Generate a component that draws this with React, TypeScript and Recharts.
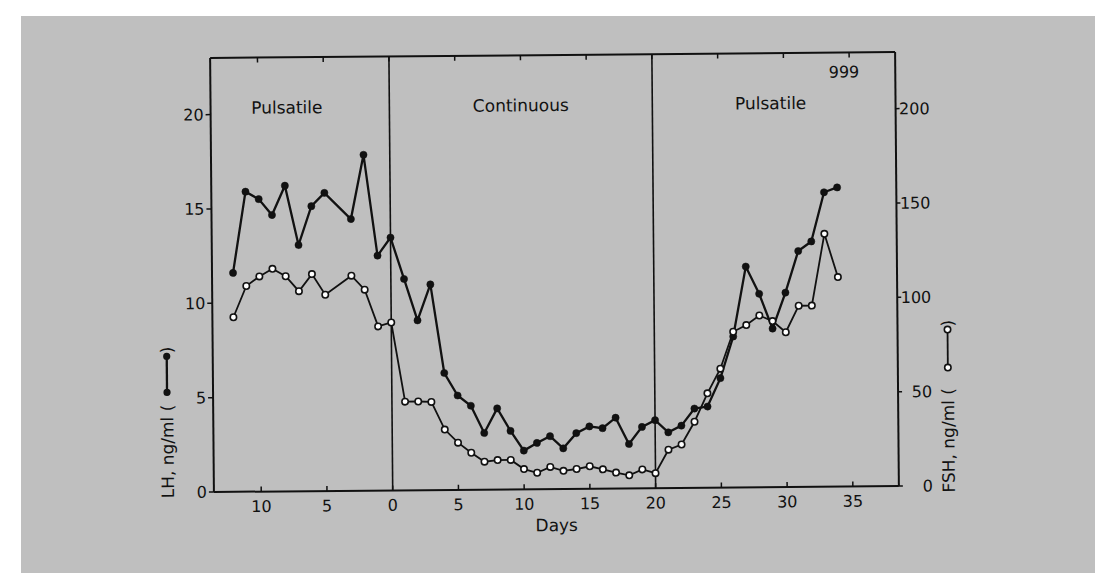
import { ComposedChart, Line, XAxis, YAxis, ReferenceLine, ReferenceDot } from 'recharts';

// days relative to start of continuous infusion (day -4 was not sampled)
const days = [
  -12, -11, -10, -9, -8, -7, -6, -5, -3, -2, -1, 0,
  1, 2, 3, 4, 5, 6, 7, 8, 9, 10, 11, 12, 13, 14, 15, 16, 17,
  18, 19, 20, 21, 22, 23, 24, 25, 26, 27, 28, 29, 30, 31, 32, 33, 34,
];
const lhValues = [
  11.6, 15.9, 15.5, 14.65, 16.2, 13.05, 15.1, 15.8, 14.4, 17.8, 12.45, 13.4,
  11.2, 9.0, 10.9, 6.2, 5.0, 4.45, 3.0, 4.3, 3.1, 2.05, 2.45, 2.8, 2.15, 2.95, 3.3, 3.2, 3.75,
  2.35, 3.25, 3.6, 2.95, 3.3, 4.2, 4.3, 5.8, 8.0, 11.7, 10.25, 8.4, 10.3, 12.5, 13.0, 15.6, 15.85,
];
const fshValues = [
  92.5, 109, 114, 118, 114, 106, 115, 104, 114, 106.5, 87, 89,
  47, 47, 46.7, 32, 25, 19.6, 14.8, 15.6, 15.6, 10.7, 8.7, 11.7, 9.6, 10.5, 11.9, 10.2, 8.4,
  6.9, 10, 7.9, 20.3, 23, 35, 50, 63, 82.5, 86, 91, 88, 82, 96, 96, 134, 111,
];

const dayTicks = [-10, -5, 0, 5, 10, 15, 20, 25, 30, 35];
const lhTicks = [0, 5, 10, 15, 20];
const fshTicks = [0, 50, 100, 150, 200];
const phaseBounds = [0, 20];
const phaseNames = ['Pulsatile', 'Continuous', 'Pulsatile'];
const phaseNameDays = [-7.8, 10, 29];
const phaseNameLevel = 20.35;
const panelTag = '999';

const data = days.map((day, i) => ({ day, lh: lhValues[i], fsh: fshValues[i] }));

const INK = '#111';
const FONT = 17;

const LeftTitle = (props: any) => {
  const { viewBox } = props;
  const cx = viewBox.x + 4;
  const base = viewBox.y + viewBox.height;
  return (
    <g>
      <text transform={`translate(${cx},${base + 6}) rotate(-90)`} dominantBaseline="central" fontSize={FONT} fill={INK}>
        LH, ng/ml (
      </text>
      <line x1={cx} x2={cx} y1={base - 100} y2={base - 136} stroke={INK} strokeWidth={2.3} />
      <circle cx={cx} cy={base - 100} r={3.6} fill={INK} />
      <circle cx={cx} cy={base - 136} r={3.6} fill={INK} />
      <text transform={`translate(${cx},${base - 139}) rotate(-90)`} dominantBaseline="central" fontSize={FONT} fill={INK}>
        )
      </text>
    </g>
  );
};

const RightTitle = (props: any) => {
  const { viewBox } = props;
  const cx = viewBox.x + 50;
  const base = viewBox.y + viewBox.height;
  return (
    <g>
      <text transform={`translate(${cx},${base + 7}) rotate(-90)`} dominantBaseline="central" fontSize={FONT} fill={INK}>
        FSH, ng/ml (
      </text>
      <line x1={cx} x2={cx} y1={base - 118} y2={base - 156} stroke={INK} strokeWidth={1.8} />
      <circle cx={cx} cy={base - 118} r={3.2} fill="#fff" stroke={INK} strokeWidth={1.6} />
      <circle cx={cx} cy={base - 156} r={3.2} fill="#fff" stroke={INK} strokeWidth={1.6} />
      <text transform={`translate(${cx},${base - 159}) rotate(-90)`} dominantBaseline="central" fontSize={FONT} fill={INK}>
        )
      </text>
    </g>
  );
};

const RightTick = (props: any) => {
  const { x, y, payload } = props;
  return (
    <text x={x + 30} y={y} dy="0.36em" textAnchor="end" fontSize={16} fill={INK}>
      {payload.value}
    </text>
  );
};

export default function App() {
  return (
    <div style={{ position: 'absolute', left: 0, top: 0, width: 1095, height: 573, overflow: 'hidden', background: '#fff', fontFamily: 'DejaVu Sans' }}>
      <div style={{ position: 'absolute', left: 21, top: 16, right: 0, bottom: 0, background: '#bfbfbf' }} />
      <div style={{ position: 'absolute', left: 0, top: 0, transform: 'rotate(-0.5deg)', transformOrigin: '555px 272px' }}>
        <ComposedChart width={1095} height={573} data={data} margin={{ top: 45, right: 138, bottom: 54, left: 162 }}>
          <XAxis
            xAxisId="bottom"
            dataKey="day"
            type="number"
            domain={[-13.6, 38.5]}
            ticks={dayTicks}
            tickFormatter={(v: number) => String(Math.abs(v))}
            height={30}
            tickSize={-5}
            tickMargin={14}
            axisLine={{ stroke: INK, strokeWidth: 2 }}
            tickLine={{ stroke: INK, strokeWidth: 1.5 }}
            tick={{ fill: INK, fontSize: 16 }}
            label={{ value: 'Days', position: 'bottom', offset: 0, fill: INK, fontSize: FONT }}
          />
          <XAxis
            xAxisId="top"
            orientation="top"
            dataKey="day"
            type="number"
            domain={[-13.6, 38.5]}
            ticks={dayTicks}
            tickFormatter={() => ''}
            height={10}
            tickSize={-5}
            axisLine={{ stroke: INK, strokeWidth: 2 }}
            tickLine={{ stroke: INK, strokeWidth: 1.5 }}
          />
          <YAxis
            yAxisId="lh"
            domain={[0, 23]}
            ticks={lhTicks}
            width={50}
            tickSize={5}
            tickMargin={2}
            axisLine={{ stroke: INK, strokeWidth: 2 }}
            tickLine={{ stroke: INK, strokeWidth: 1.5 }}
            tick={{ fill: INK, fontSize: 16 }}
            label={{ content: LeftTitle }}
          />
          <YAxis
            yAxisId="fsh"
            orientation="right"
            domain={[0, 230]}
            ticks={fshTicks}
            width={60}
            tickSize={4}
            tickMargin={0}
            axisLine={{ stroke: INK, strokeWidth: 2 }}
            tickLine={{ stroke: INK, strokeWidth: 1.5 }}
            tick={RightTick}
            label={{ content: RightTitle }}
          />
          {phaseBounds.map((d) => (
            <ReferenceLine key={d} x={d} xAxisId="bottom" yAxisId="lh" stroke={INK} strokeWidth={1.6} />
          ))}
          {phaseNames.map((name, i) => (
            <ReferenceDot
              key={i}
              x={phaseNameDays[i]}
              y={phaseNameLevel}
              xAxisId="bottom"
              yAxisId="lh"
              r={0}
              stroke="none"
              label={{ value: name, position: 'center', fill: INK, fontSize: FONT }}
            />
          ))}
          <ReferenceDot
            x={34.6}
            y={21.97}
            xAxisId="bottom"
            yAxisId="lh"
            r={0}
            stroke="none"
            label={{ value: panelTag, position: 'center', fill: INK, fontSize: 16 }}
          />
          <Line
            xAxisId="bottom"
            yAxisId="lh"
            dataKey="lh"
            type="linear"
            stroke={INK}
            strokeWidth={2.3}
            dot={{ r: 3.6, fill: INK, stroke: INK, strokeWidth: 0.5 }}
            activeDot={false}
            isAnimationActive={false}
          />
          <Line
            xAxisId="bottom"
            yAxisId="fsh"
            dataKey="fsh"
            type="linear"
            stroke={INK}
            strokeWidth={1.8}
            dot={{ r: 3.2, fill: '#fff', stroke: INK, strokeWidth: 1.6 }}
            activeDot={false}
            isAnimationActive={false}
          />
        </ComposedChart>
      </div>
    </div>
  );
}
